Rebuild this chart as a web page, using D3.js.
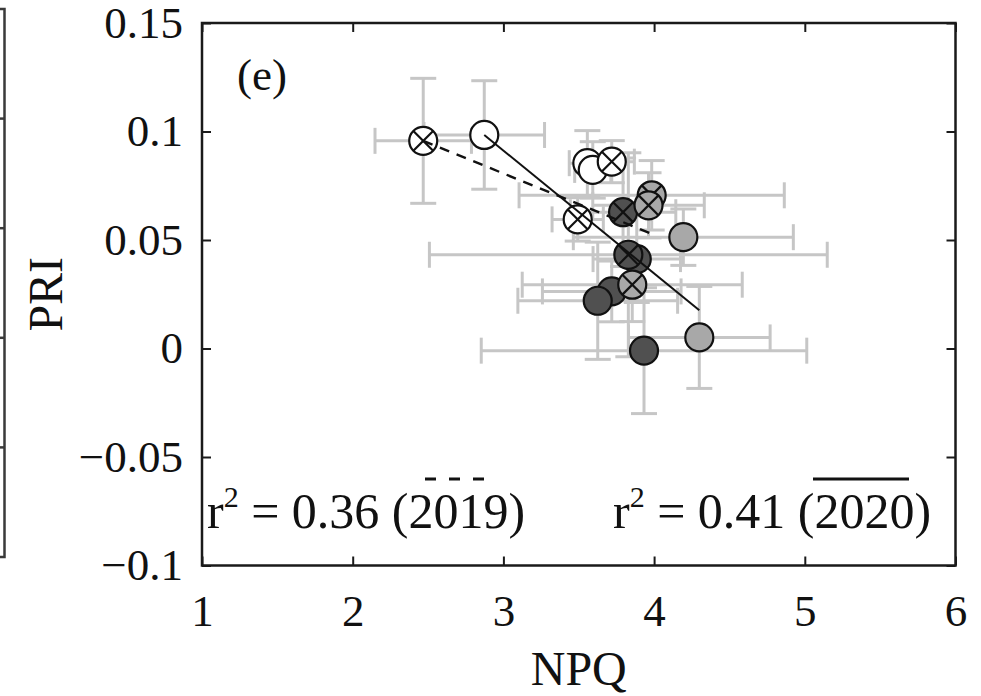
<!DOCTYPE html>
<meta charset="utf-8">
<style>
body { margin: 0; background: #fff; }
svg { display: block; font-family: "Liberation Serif", "Times New Roman", serif; }
.axis text { font-size: 45px; fill: #111; }
.axis line { stroke: #1a1a1a; stroke-width: 2; }
.errbar line { stroke: #c6c6c6; stroke-width: 3; }
.marks circle { stroke: #111; stroke-width: 2.2; }
.marks line { stroke: #111; stroke-width: 2.2; }
</style>
<body>
<script src="https://d3js.org/d3.v7.min.js"></script>
<script>
// values, panel (e)
// plain markers = 2020 (solid fit), crossed markers = 2019 (dashed fit)
var npq    = [2.873, 3.557, 3.593, 3.719, 3.626, 3.885, 3.933, 4.194, 4.300,
              2.468, 3.719, 3.493, 3.794, 3.829, 3.984, 3.963, 3.855]
var pri    = [0.0984, 0.0854, 0.0823, 0.0263, 0.0220, 0.0412, -0.0010, 0.0513, 0.0051,
              0.0957, 0.0861, 0.0595, 0.0628, 0.0432, 0.0706, 0.0660, 0.0294]
var npqErr = [0.40, 0.12, 0.12, 0.46, 0.53, 0.29, 1.08, 0.73, 0.47,
              0.32, 0.15, 0.17, 0.35, 1.32, 0.88, 0.37, 0.73]
var priErr = [0.025, 0.015, 0.013, 0.014, 0.027, 0.020, 0.029, 0.013, 0.0235,
              0.0288, 0.0097, 0.010, 0.025, 0.047, 0.016, 0.015, 0.017]
var shade  = ['white', 'white', 'white', 'dark', 'dark', 'dark', 'dark', 'gray', 'gray',
              'white', 'white', 'white', 'dark', 'dark', 'gray', 'gray', 'gray']
var year   = [2020, 2020, 2020, 2020, 2020, 2020, 2020, 2020, 2020,
              2019, 2019, 2019, 2019, 2019, 2019, 2019, 2019]

// fitted lines as drawn in the figure
var fit2019 = { npq: [2.468, 4.00], pri: [0.0957, 0.0524] }
var fit2020 = { npq: [2.873, 4.30], pri: [0.0984, 0.0176] }

var npqTicks = [1, 2, 3, 4, 5, 6]
var priTicks = [-0.1, -0.05, 0, 0.05, 0.1, 0.15]
var priTickLabels = ['\u22120.1', '\u22120.05', '0', '0.05', '0.1', '0.15']

var fills = { white: '#ffffff', dark: '#505050', gray: '#a8a8a8' }

var width = 981
var height = 696
var plotLeft = 202, plotRight = 955.5, plotTop = 23, plotBottom = 565.5

var x = d3.scaleLinear().domain([1, 6]).range([plotLeft, plotRight])
var y = d3.scaleLinear().domain([-0.1, 0.15]).range([plotBottom, plotTop])

var svg = d3.select('body')
    .append('svg')
    .attr('width', width)
    .attr('height', height)

svg.append('rect')
    .attr('width', width)
    .attr('height', height)
    .attr('fill', '#fff')

// edge of the neighbouring panel (d), cut off at the left border
var yPrev = d3.scaleLinear().domain([-0.1, 0.15]).range([557, 9])
var prev = svg.append('g').attr('stroke', '#3a3a3a').attr('stroke-width', 2.5).attr('fill', 'none')
prev.append('path')
    .attr('d', 'M0,' + yPrev(0.15) + 'H4.5V' + yPrev(-0.1) + 'H0')
prev.selectAll('line')
    .data(priTicks.slice(1, -1))
    .enter().append('line')
    .attr('x1', 0).attr('x2', 4.5)
    .attr('y1', function (d) { return yPrev(d) })
    .attr('y2', function (d) { return yPrev(d) })

var points = npq.map(function (d, i) {
    return { npq: d, pri: pri[i], ex: npqErr[i], ey: priErr[i], shade: shade[i], year: year[i] }
})

var cap = 13

// error bars underneath everything
var eb = svg.append('g').attr('class', 'errbar')
    .selectAll('g')
    .data(points)
    .enter().append('g')

eb.append('line')
    .attr('x1', function (d) { return x(d.npq - d.ex) })
    .attr('x2', function (d) { return x(d.npq + d.ex) })
    .attr('y1', function (d) { return y(d.pri) })
    .attr('y2', function (d) { return y(d.pri) })
eb.append('line')
    .attr('x1', function (d) { return x(d.npq - d.ex) })
    .attr('x2', function (d) { return x(d.npq - d.ex) })
    .attr('y1', function (d) { return y(d.pri) - cap })
    .attr('y2', function (d) { return y(d.pri) + cap })
eb.append('line')
    .attr('x1', function (d) { return x(d.npq + d.ex) })
    .attr('x2', function (d) { return x(d.npq + d.ex) })
    .attr('y1', function (d) { return y(d.pri) - cap })
    .attr('y2', function (d) { return y(d.pri) + cap })
eb.append('line')
    .attr('x1', function (d) { return x(d.npq) })
    .attr('x2', function (d) { return x(d.npq) })
    .attr('y1', function (d) { return y(d.pri - d.ey) })
    .attr('y2', function (d) { return y(d.pri + d.ey) })
eb.append('line')
    .attr('x1', function (d) { return x(d.npq) - cap })
    .attr('x2', function (d) { return x(d.npq) + cap })
    .attr('y1', function (d) { return y(d.pri + d.ey) })
    .attr('y2', function (d) { return y(d.pri + d.ey) })
eb.append('line')
    .attr('x1', function (d) { return x(d.npq) - cap })
    .attr('x2', function (d) { return x(d.npq) + cap })
    .attr('y1', function (d) { return y(d.pri - d.ey) })
    .attr('y2', function (d) { return y(d.pri - d.ey) })

// markers
var r = 14
var k = r * 0.707
var mk = svg.append('g').attr('class', 'marks')
    .selectAll('g')
    .data(points)
    .enter().append('g')
    .attr('transform', function (d) { return 'translate(' + x(d.npq) + ',' + y(d.pri) + ')' })

mk.append('circle')
    .attr('r', r)
    .attr('fill', function (d) { return fills[d.shade] })

mk.filter(function (d) { return d.year === 2019 })
    .selectAll('line')
    .data([[-k, -k, k, k], [-k, k, k, -k]])
    .enter().append('line')
    .attr('x1', function (d) { return d[0] })
    .attr('y1', function (d) { return d[1] })
    .attr('x2', function (d) { return d[2] })
    .attr('y2', function (d) { return d[3] })

// fitted lines on top
var line = d3.line()
    .x(function (d) { return x(d[0]) })
    .y(function (d) { return y(d[1]) })

svg.append('path')
    .attr('d', line(d3.zip(fit2019.npq, fit2019.pri)))
    .attr('fill', 'none')
    .attr('stroke', '#111')
    .attr('stroke-width', 2.4)
    .attr('stroke-dasharray', '10,8')

svg.append('path')
    .attr('d', line(d3.zip(fit2020.npq, fit2020.pri)))
    .attr('fill', 'none')
    .attr('stroke', '#111')
    .attr('stroke-width', 2)

// axes, ticks inward on all four sides
svg.append('g').attr('class', 'axis')
    .attr('transform', 'translate(' + plotLeft + ',0)')
    .call(d3.axisLeft(y).tickValues(priTicks).tickSize(-9).tickPadding(19)
        .tickFormat(function (d, i) { return priTickLabels[i] }))
svg.append('g').attr('class', 'axis')
    .attr('transform', 'translate(0,' + plotBottom + ')')
    .call(d3.axisBottom(x).tickValues(npqTicks).tickSize(-9).tickPadding(29)
        .tickFormat(d3.format('d')))
svg.append('g').attr('class', 'axis')
    .attr('transform', 'translate(' + plotRight + ',0)')
    .call(d3.axisRight(y).tickValues(priTicks).tickSize(-9).tickFormat(''))
svg.append('g').attr('class', 'axis')
    .attr('transform', 'translate(0,' + plotTop + ')')
    .call(d3.axisTop(x).tickValues(npqTicks).tickSize(-9).tickFormat(''))

svg.selectAll('.axis .domain').remove()
svg.selectAll('.axis').attr('font-family', null).attr('font-size', null)

svg.append('rect')
    .attr('x', plotLeft).attr('y', plotTop)
    .attr('width', plotRight - plotLeft).attr('height', plotBottom - plotTop)
    .attr('fill', 'none')
    .attr('stroke', '#1a1a1a')
    .attr('stroke-width', 2.5)

// labels
svg.append('text')
    .attr('x', (plotLeft + plotRight) / 2)
    .attr('y', 685)
    .attr('text-anchor', 'middle')
    .attr('font-size', 48)
    .attr('fill', '#111')
    .text('NPQ')

svg.append('text')
    .attr('transform', 'translate(62,' + (plotTop + plotBottom) / 2 + ') rotate(-90)')
    .attr('text-anchor', 'middle')
    .attr('font-size', 48)
    .attr('fill', '#111')
    .text('PRI')

svg.append('text')
    .attr('x', 237)
    .attr('y', 90)
    .attr('font-size', 45)
    .attr('fill', '#111')
    .text('(e)')

function r2label(xpos, value, yr) {
    var t = svg.append('text')
        .attr('x', xpos)
        .attr('y', 528)
        .attr('font-size', 50)
        .attr('fill', '#111')
    t.append('tspan').text('r')
    t.append('tspan').attr('font-size', 30).attr('dy', -21).text('2')
    t.append('tspan').attr('dy', 21).text(' = ' + value + ' (' + yr + ')')
}
r2label(207, '0.36', 2019)
r2label(613, '0.41', 2020)

// line-style keys drawn over the years
svg.append('line')
    .attr('x1', 425).attr('x2', 487)
    .attr('y1', 479).attr('y2', 479)
    .attr('stroke', '#111').attr('stroke-width', 3)
    .attr('stroke-dasharray', '11,13')
svg.append('line')
    .attr('x1', 813).attr('x2', 909)
    .attr('y1', 479).attr('y2', 479)
    .attr('stroke', '#111').attr('stroke-width', 3)
</script>
</body>
